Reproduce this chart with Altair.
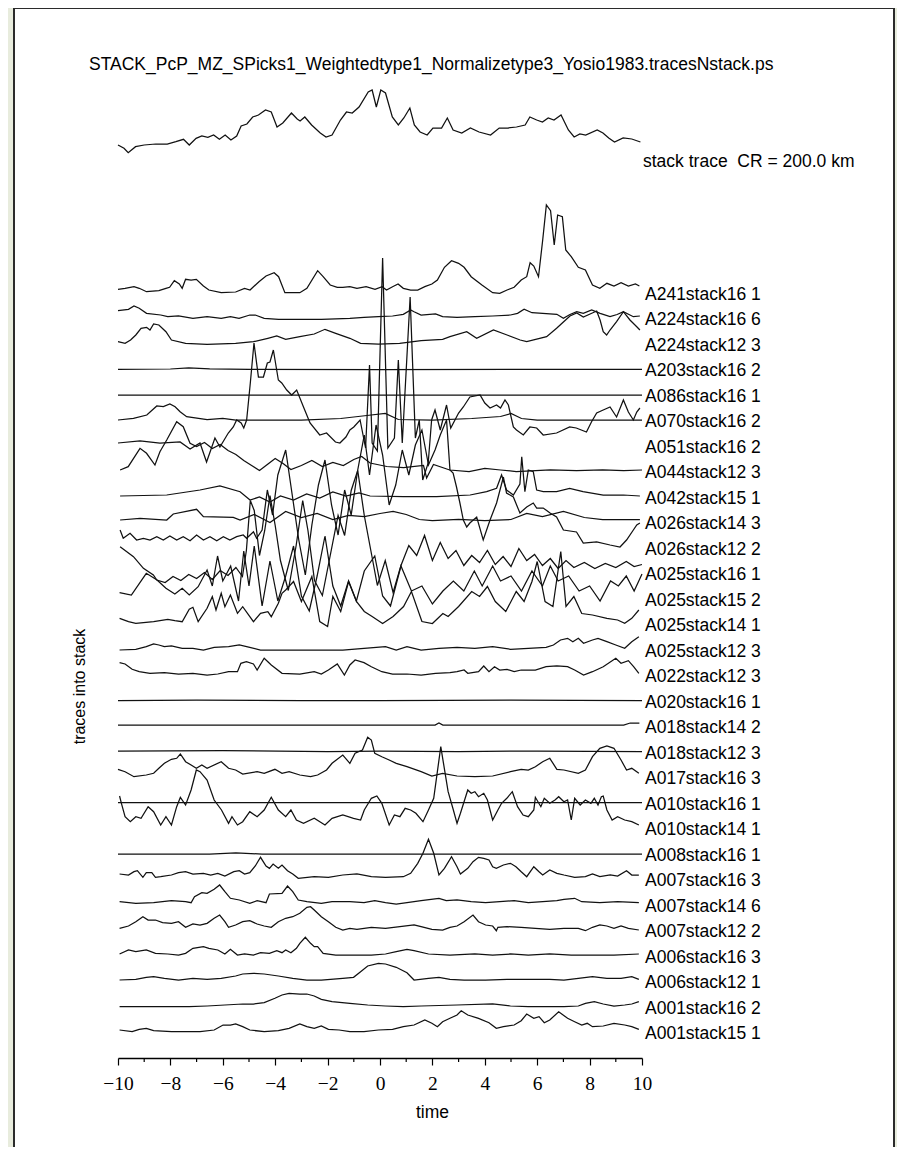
import altair as alt
import pandas as pd

# ---------------- data (time in s, amplitude above trace baseline) ----------------
stack_trace = [(-10.0,0),(-9.77,-3.3),(-9.61,-7.7),(-9.33,-1.7),(-9.0,0),(-8.56,1),(-8.12,1),(-7.79,3.3),(-7.5,5.7),(-7.28,0),(-7.02,6.7),(-6.8,9),(-6.57,7.7),(-6.35,10),(-6.13,5.7),(-5.91,10),(-5.69,5),(-5.47,9),(-5.30,19),(-5.08,21),(-4.86,28),(-4.64,30),(-4.37,35),(-4.15,33),(-3.93,18),(-3.71,22),(-3.38,32),(-3.16,26),(-3.05,24),(-2.87,28),(-2.61,20),(-2.28,12),(-2.06,8),(-1.83,10),(-1.51,25),(-1.28,33),(-1.06,32),(-0.8,38),(-0.45,53),(-0.30,55),(-0.14,38),(0.03,55),(0.21,52),(0.47,28),(0.70,20),(0.91,27),(1.14,37),(1.31,20),(1.53,13),(1.80,10),(2.02,17),(2.35,17),(2.57,27),(2.79,15),(3.12,12),(3.45,17),(3.78,13),(4.22,10),(4.55,17),(4.88,17),(5.21,18),(5.54,20),(5.72,28),(5.98,25),(6.20,23),(6.42,27),(6.64,25),(6.91,30),(7.19,15),(7.41,8),(7.63,11),(7.85,10),(8.29,15),(8.51,12),(8.73,7),(8.95,3),(9.28,7),(9.61,6),(9.94,3)]

a241s16_1 = [(-10,0.7),(-9.73,1.7),(-9.39,3.3),(-9.19,1.7),(-8.91,-1.7),(-8.44,-0.7),(-8.17,1.7),(-8.03,2.7),(-7.85,9.3),(-7.66,6),(-7.55,1.7),(-7.42,10.7),(-7.21,10),(-7.01,10.7),(-6.74,4),(-6.53,0),(-6.06,-2.7),(-5.51,-2),(-5.17,1.7),(-4.96,0),(-4.62,8.3),(-4.35,14),(-4.04,17.3),(-3.87,13.3),(-3.63,-2.7),(-3.06,-2.7),(-2.79,1.7),(-2.38,19.3),(-2.17,13.3),(-1.90,5),(-1.63,2.7),(-1.42,2.7),(-1.15,3.3),(-0.88,1.7),(-0.53,3.3),(-0.19,0.7),(0.08,3.3),(0.25,0),(0.48,3.3),(0.69,6),(0.89,1.7),(1.17,0),(1.44,0),(1.71,3.3),(1.98,6),(2.19,10),(2.46,22.7),(2.73,29.3),(3.0,26.7),(3.21,22.7),(3.48,13.3),(3.89,5),(4.30,-2.7),(4.57,-3.3),(4.85,0),(5.12,2.7),(5.39,10),(5.60,13.3),(5.73,27.3),(5.87,24),(6.05,13.3),(6.21,50),(6.35,85),(6.51,79.3),(6.65,45),(6.78,75),(6.96,73.3),(7.09,40),(7.30,33.3),(7.57,22.7),(7.84,20),(8.11,5),(8.39,1.7),(8.66,6.7),(8.93,4),(9.20,7.3),(9.48,4),(9.75,6),(9.90,4)]
a224s16_6 = [(-10,4.8),(-9.6,6.2),(-9.39,9.5),(-9.19,7.2),(-8.91,2.2),(-8.37,0.5),(-8.10,-1.2),(-7.69,-0.5),(-7.14,-2.8),(-6.60,-1.2),(-6.06,-2.8),(-5.71,-1.2),(-5.38,-2.8),(-4.97,0.5),(-4.76,0.5),(-4.42,-2.8),(-3.87,-3.8),(-3.06,-3.8),(-2.24,-3.8),(-1.15,-2.8),(-0.61,-1.8),(-0.06,-1.2),(0.48,-0.5),(0.89,1.2),(1.17,5.5),(1.30,3.8),(1.57,0.5),(2.12,1.5),(2.39,-1.2),(2.94,-1.8),(3.62,-1.2),(4.30,-0.5),(4.98,0.5),(5.25,2.2),(5.50,6.2),(5.80,2.8),(6.21,2.2),(6.75,1.2),(7.0,-2.8),(7.25,1),(7.51,3.8),(7.76,2.2),(8.08,5.5),(8.40,2.2),(8.78,-1.2),(9.05,1),(9.29,3.8),(9.67,-1.2),(9.92,-0.5)]
a224s12_3 = [(-10,-0.7),(-9.73,-2.3),(-9.52,1),(-9.32,6),(-9.12,12.7),(-8.91,13.7),(-8.78,11),(-8.64,17),(-8.44,16),(-8.17,9.3),(-7.96,1),(-7.42,-2.3),(-6.60,-3.3),(-5.51,-2.3),(-4.83,-0.7),(-4.28,2.7),(-3.94,5),(-3.60,1.7),(-3.06,4.3),(-2.51,7),(-2.10,11.7),(-1.69,7.7),(-1.15,2.7),(-0.74,-2.3),(-0.06,-3),(0.75,-2.3),(1.57,0.3),(2.39,1.7),(2.67,4.3),(3.31,9.3),(3.69,2.7),(4.33,11),(4.85,6),(5.35,1),(5.60,-0.7),(6.36,4.3),(6.74,12.7),(7.0,19),(7.25,25),(7.51,28),(7.76,24),(8.02,27),(8.27,30),(8.40,21),(8.52,9.3),(8.65,6),(8.78,11),(9.03,19.3),(9.29,29.3),(9.54,21),(9.80,14.3),(9.92,11)]
a203s16_2 = [(-10,-2.8),(-8,-2.5),(-7.3,-1.5),(-6.5,-2.3),(-5,-2.8),(0,-3),(5,-2.8),(10,-2.8)]
a086s16_1 = [(-10,-3),(-5,-3.2),(0,-3),(5,-3.2),(10,-3)]
a070s16_2 = [(-10,-2.5),(-9.41,-0.8),(-8.90,2.5),(-8.52,11.5),(-8.27,10.8),(-8.02,13.5),(-7.82,10.8),(-7.63,5.8),(-7.38,0.8),(-6.6,-2),(-6.0,-1),(-5.5,-2.5),(-3.0,-2.5),(-1.5,-1),(-0.5,2),(0.2,4),(0.7,-2),(2.0,-2.5),(3.5,-1),(4.6,1),(5.0,4),(5.4,-1),(6.0,-2.5),(10,-2.5)]
a051s16_2 = [(-10,0),(-9.16,2),(-8.4,0),(-7.63,1),(-7.25,-6),(-6.87,0),(-6.62,-19),(-6.30,5),(-6.11,-4),(-5.79,10),(-5.60,16),(-5.47,23),(-5.3,20),(-5.2,15),(-5.09,23),(-4.95,60),(-4.81,100),(-4.64,66),(-4.45,66),(-4.3,80),(-4.2,81),(-4.07,93),(-3.88,63),(-3.75,60),(-3.56,53),(-3.37,48),(-3.18,53),(-2.92,36),(-2.67,20),(-2.3,8),(-2.04,10),(-1.7,1),(-1.53,0),(-1.3,6),(-1.15,13),(-1.0,16),(-0.76,23),(-0.55,-5),(-0.4,78),(-0.3,0),(-0.1,-8),(0.1,185),(0.3,-5),(0.55,5),(0.7,83),(0.85,0),(1.15,146),(1.35,5),(1.5,23),(1.63,-37),(1.84,-20),(1.97,23),(2.1,33),(2.3,13),(2.54,38),(2.7,15),(3.0,30),(3.18,36),(3.43,46),(3.82,48),(4.0,40),(4.20,35),(4.45,38),(4.6,35),(4.77,43),(4.9,38),(5.09,16),(5.21,13),(5.47,8),(5.72,16),(5.98,15),(6.23,8),(6.74,10),(7.24,16),(7.49,15),(7.88,11),(8.07,21),(8.27,30),(8.52,33),(8.78,36),(9.03,26),(9.29,43),(9.48,31),(9.67,23),(9.80,31),(9.92,35)]
a044s12_3 = [(-9.92,-1.5),(-9.61,1.8),(-9.16,20.2),(-8.91,15.2),(-8.59,3.5),(-8.40,16.8),(-8.14,28.5),(-7.76,46.8),(-7.51,41.8),(-7.25,25.2),(-7.0,22),(-6.7,26),(-6.4,20),(-6.1,24),(-5.8,18),(-5.5,14),(-5.2,8),(-4.9,3),(-4.6,-2),(-4.3,4),(-4.0,10),(-3.7,5),(-3.4,-1),(-3.0,3),(-2.6,8),(-2.2,2),(-1.8,6),(-1.4,3),(-1.0,9),(-0.7,12),(-0.38,5.5),(0.26,2),(0.9,1),(1.66,3),(1.78,-9.5),(2.04,4),(2.66,-1.5),(3.4,-3),(4.0,0),(4.6,-1.5),(5.2,-3),(6.5,-1.5),(7.5,-2),(8.5,-1.5),(9.3,-2),(10,-1.5)]
a042s15_1 = [(-9.92,-2),(-8.14,-1),(-6.87,4),(-6.11,8),(-5.34,2.3),(-4.96,-6),(-4.6,-3),(-4.2,-8),(-3.8,-2),(-3.3,-6),(-2.8,0),(-2.3,-4),(-1.8,2),(-1.3,-2),(-0.8,1),(-0.38,-2),(0.89,-2.7),(2.16,-2.7),(3.44,-1),(4.07,2.3),(4.45,5.7),(4.64,19),(4.83,4),(5.09,-1),(5.34,10),(5.41,37.3),(5.53,2.3),(5.66,24),(5.85,22.3),(5.98,4),(6.23,2.3),(6.74,2.3),(7.24,5.7),(7.75,2.3),(8.52,-1),(9.29,-1),(9.92,-2)]
a026s14_3 = [(-9.92,-0.5),(-9.16,1.2),(-8.14,-0.5),(-7.89,5.5),(-7.0,10.2),(-6.74,2.8),(-5.60,2.2),(-5.34,-0.5),(-4.8,5),(-4.2,-3),(-3.6,8),(-3.0,2),(-2.4,6),(-1.8,0),(-1.2,4),(-0.6,3),(0.0,6),(0.5,8),(1.0,5),(1.5,0),(2.0,-1),(3.0,0),(4.0,-1),(5.0,0),(5.6,6),(6.2,3),(7.0,8),(7.8,2),(8.5,0),(9.2,0),(9.92,0)]
a026s12_2 = [(-9.92,15),(-9.80,6.7),(-9.54,11.7),(-9.29,5),(-9.03,6.7),(-8.78,5),(-8.52,8.3),(-8.27,5),(-8.02,9),(-7.76,5),(-7.51,8.3),(-7.25,4.3),(-7.0,10),(-6.74,5),(-6.49,8.3),(-6.23,4.3),(-5.98,8.3),(-5.73,5),(-5.47,8.3),(-5.22,10),(-5.09,6.7),(-4.83,13.3),(-4.71,6.7),(-4.5,15),(-4.3,55),(-4.1,30),(-3.9,70),(-3.6,95),(-3.35,50),(-3.1,5),(-2.85,-30),(-2.6,20),(-2.35,60),(-2.1,85),(-1.85,40),(-1.6,10),(-1.35,55),(-1.1,30),(-0.85,75),(-0.6,110),(-0.4,70),(-0.15,120),(0.1,90),(0.35,40),(0.6,60),(0.85,95),(1.1,70),(1.35,100),(1.6,115),(1.85,80),(2.1,95),(2.3,110),(2.54,125),(2.67,75),(2.79,72),(2.92,58),(3.05,42),(3.18,25),(3.31,18),(3.43,22),(3.69,28),(3.94,5),(4.2,25),(4.45,42),(4.71,68),(4.83,52),(5.09,48),(5.34,32),(5.6,38),(5.85,42),(5.98,37),(6.23,37),(6.49,32),(6.74,28),(7.0,15),(7.5,13),(7.76,2),(8.27,3),(8.78,0),(9.16,-2),(9.41,5),(9.67,15),(9.8,20),(9.92,22)]
a025s16_1 = [(-9.92,23.8),(-9.41,13.8),(-9.03,2.2),(-8.65,-4.5),(-8.52,-9.5),(-8.2,-12),(-7.9,-6),(-7.6,-10),(-7.3,-4),(-7.0,-8),(-6.7,-2),(-6.4,-9),(-6.1,0),(-5.8,-5),(-5.5,3),(-5.25,-6),(-5.1,20),(-4.95,70),(-4.8,60),(-4.6,15),(-4.4,40),(-4.2,75),(-4.0,45),(-3.8,10),(-3.5,-20),(-3.2,25),(-2.95,70),(-2.75,40),(-2.5,-10),(-2.2,-25),(-1.9,15),(-1.6,55),(-1.35,35),(-1.1,80),(-0.85,100),(-0.6,55),(-0.35,20),(-0.1,-15),(0.2,10),(0.5,-22),(0.8,5),(1.1,25),(1.4,15),(1.7,35),(2.0,10),(2.3,28),(2.6,12),(2.9,20),(3.2,5),(3.5,15),(3.8,8),(4.1,20),(4.4,6),(4.7,14),(5.0,4),(5.3,22),(5.6,10),(5.9,16),(6.2,5),(6.5,12),(6.8,2),(7.1,10),(7.4,3),(7.8,8),(8.2,2),(8.6,7),(9.0,3),(9.4,9),(9.7,4),(10,6)]
a025s15_2 = [(-9.94,3.3),(-9.49,1),(-8.92,22.7),(-8.51,16),(-8.17,7.7),(-7.83,2),(-7.55,7.7),(-7.28,1),(-6.94,9.3),(-6.60,26),(-6.4,10),(-6.2,40),(-6.0,15),(-5.7,30),(-5.4,-5),(-5.2,45),(-5.0,10),(-4.8,50),(-4.5,-10),(-4.2,35),(-3.9,-5),(-3.6,20),(-3.3,50),(-3.0,0),(-2.7,-15),(-2.4,20),(-2.1,60),(-1.8,10),(-1.5,-10),(-1.2,15),(-0.9,-5),(-0.6,25),(-0.2,40),(0.1,0),(0.4,-10),(0.8,30),(1.2,5),(1.6,10),(2.0,-8),(2.4,5),(2.8,15),(3.2,5),(3.6,25),(3.9,10),(4.3,30),(4.6,15),(5.0,20),(5.4,5),(5.8,25),(6.2,10),(6.5,30),(6.8,15),(7.2,20),(7.6,5),(8.0,10),(8.4,-5),(8.8,15),(9.1,10),(9.4,20),(9.7,5),(10,22)]
a025s14_1 = [(-9.94,3.2),(-9.60,-0.2),(-9.32,-1.8),(-8.64,-0.2),(-8.10,2.2),(-7.83,0.8),(-7.55,-0.2),(-7.28,12.2),(-7.14,14.2),(-6.94,-0.2),(-6.60,13.2),(-6.40,24.8),(-6.26,11.5),(-6.06,28.2),(-5.92,14.8),(-5.71,26.5),(-5.44,8.2),(-5.24,14.8),(-4.83,-0.2),(-4.56,8.2),(-4.28,9.8),(-4.15,4.8),(-3.88,18.2),(-3.74,28.2),(-3.60,31.5),(-3.3,40),(-3.0,20),(-2.6,45),(-2.3,0),(-2.0,-5),(-1.8,25),(-1.5,10),(-1.2,40),(-0.9,20),(-0.6,10),(-0.3,5),(0.1,-2),(0.5,5),(0.9,15),(1.2,30),(1.6,0),(2.0,-2),(2.4,8),(2.6,5),(3.0,15),(3.5,30),(3.8,25),(4.1,35),(4.4,20),(4.8,10),(5.2,30),(5.5,20),(5.8,40),(6.0,60),(6.3,20),(6.6,15),(6.9,70),(7.1,15),(7.4,25),(7.7,8),(8.11,6.5),(8.66,3.2),(9.07,1.5),(9.34,-1.8),(9.61,3.2),(9.88,11.5)]
a025s12_3 = [(-9.94,-3),(-9.32,-2.3),(-8.92,0.3),(-8.64,3),(-8.44,2),(-8.23,0.3),(-7.96,1),(-7.55,-1.3),(-7.14,-1.3),(-6.74,-3),(-6.33,-0.3),(-5.78,0.3),(-5.37,2),(-4.97,-0.3),(-4.56,-3),(-3.88,-3),(-3.06,-3),(-2.24,-3),(-1.42,-3),(-0.61,-1.3),(0.21,0.3),(0.62,-3),(1.03,0.3),(1.57,-3),(2.25,-1.3),(2.94,-0.3),(3.62,-1.3),(4.30,0.3),(4.98,-2.3),(5.66,-1.3),(6.34,-0.3),(6.62,2),(6.89,7),(7.16,8.7),(7.36,5.3),(7.57,8.7),(7.77,3.7),(8.11,7),(8.32,8.7),(8.66,5.3),(9.0,2),(9.34,-1.3),(9.61,5.3),(9.88,10.3)]
a022s12_3 = [(-9.94,9.8),(-9.73,8.5),(-9.46,3.2),(-9.19,0.8),(-8.78,-0.8),(-8.23,-0.2),(-7.69,-1.5),(-7.14,-0.8),(-6.60,-2.5),(-6.19,-1.5),(-5.78,0.8),(-5.44,0.8),(-5.31,9.2),(-5.10,10.8),(-4.83,8.5),(-4.69,2.5),(-4.42,14.2),(-4.15,7.5),(-3.74,-0.8),(-3.06,-1.5),(-2.51,0.8),(-2.24,-1.5),(-1.97,2.5),(-1.63,8.5),(-1.36,-2.5),(-1.15,7.5),(-0.95,12.5),(-0.61,9.8),(-0.33,5.8),(0.07,0.8),(0.48,-1.5),(1.03,-1.5),(1.57,-2.5),(2.12,-0.8),(2.67,-0.2),(2.94,0.8),(3.21,2.5),(3.35,-0.8),(3.76,0.8),(3.96,6.5),(4.16,0.8),(4.37,5.8),(4.57,2.5),(4.85,3.2),(5.12,0.8),(5.39,2.5),(5.93,2.5),(6.34,5.8),(6.75,6.5),(7.16,5.8),(7.43,2.5),(7.77,-2.5),(8.11,0.8),(8.52,5.8),(9.0,14.2),(9.20,9.2),(9.48,11.8),(9.68,5.8),(9.88,-0.8)]
a020s16_1 = [(-10,-2.5),(-7,-2),(-3,-2.5),(0,-2.5),(5,-2),(10,-2.5)]
a018s14_2 = [(-10,-1.5),(2.1,-1.5),(2.25,0.5),(2.4,-1.5),(9.3,-1.5),(9.55,0.5),(9.9,0.5)]
a018s12_3 = [(-10,-2),(-6,-1.5),(-2,-2.5),(0,-2),(3,-2.5),(6,-2),(10,-2.5)]
a017s16_3 = [(-10,5.2),(-9.73,2.8),(-9.39,-2.2),(-8.92,-0.5),(-8.64,1.2),(-8.44,6.2),(-8.23,11.2),(-7.96,15.2),(-7.76,16.2),(-7.62,20.5),(-7.42,12.8),(-7.21,9.5),(-7.01,6.2),(-6.80,9.5),(-6.60,6.2),(-6.06,12.8),(-5.78,6.2),(-5.51,4.5),(-5.24,0.5),(-4.69,2.8),(-4.42,1.2),(-4.01,5.2),(-3.74,1.2),(-3.47,2.8),(-3.06,-0.5),(-2.65,-2.2),(-2.38,-0.5),(-2.04,4.5),(-1.83,11.2),(-1.42,19.5),(-1.15,11.2),(-0.95,21.2),(-0.67,24.5),(-0.47,37.2),(-0.33,34.5),(-0.20,21.2),(0.07,17.8),(0.35,14.5),(0.62,11.2),(1.03,7.8),(1.57,2.8),(1.98,-1.5),(2.39,1.2),(2.94,-1.5),(3.62,-2.2),(4.30,-1.5),(4.98,2.8),(5.39,5.2),(5.66,4.5),(5.93,7.8),(6.21,12.8),(6.48,16.2),(6.75,5.2),(7.02,4.5),(7.57,1.2),(7.84,4.5),(8.11,17.8),(8.39,26.2),(8.66,28.5),(8.93,26.2),(9.20,14.5),(9.41,4.5),(9.61,6.2),(9.88,1.2)]
a010s16_1 = [(-10,-2.7),(10,-2.7)]
a010s14_1 = [(-9.94,29.5),(-9.87,22.2),(-9.73,8.8),(-9.53,3.8),(-9.32,8.8),(-9.12,7.2),(-8.85,18.8),(-8.64,13.8),(-8.37,0.5),(-8.17,8.8),(-7.96,0.5),(-7.76,18.8),(-7.62,28.2),(-7.42,20.5),(-7.21,35.5),(-7.01,55.5),(-6.87,53.8),(-6.60,45.5),(-6.33,25.5),(-6.05,15.5),(-5.78,2.2),(-5.65,8.8),(-5.44,0.5),(-5.24,3.8),(-4.97,13.8),(-4.69,8.8),(-4.42,15.5),(-4.15,28.2),(-3.88,15.5),(-3.60,8.8),(-3.40,15.5),(-3.19,5.5),(-2.92,2.2),(-2.51,7.2),(-2.10,0.5),(-1.83,7.2),(-1.42,10.5),(-1.01,7.2),(-0.74,5.5),(-0.60,15.5),(-0.33,27.2),(-0.12,29.5),(0.07,22.2),(0.35,0.5),(0.55,10.5),(0.76,8.8),(0.96,17.2),(1.17,15.5),(1.37,12.2),(1.64,3.8),(1.85,15.5),(2.05,27.2),(2.32,78.8),(2.60,33.8),(2.80,15.5),(2.94,2.2),(3.07,12.2),(3.35,35.5),(3.48,32.2),(3.62,33.8),(3.76,28.8),(3.96,32.2),(4.10,25.5),(4.30,5.5),(4.50,15.5),(4.64,22.2),(4.84,27.2),(5.05,33.8),(5.25,18.8),(5.46,10.5),(5.66,8.8),(5.87,15.5),(5.93,28.2),(6.14,18.8),(6.27,27.2),(6.48,22.2),(6.68,25.5),(6.82,28.8),(7.02,23.8),(7.16,25.5),(7.30,5.5),(7.43,27.2),(7.64,20.5),(7.84,25.5),(8.05,22.2),(8.18,27.2),(8.32,20.5),(8.45,28.8),(8.52,29.5),(8.66,15.5),(8.86,5.5),(9.07,8.8),(9.34,5.5),(9.61,3.8),(9.88,0.5)]
a008s16_1 = [(-10,-3),(-6.5,-3),(-5.5,-2),(-4.5,-3),(10,-3)]
a007s16_3 = [(-9.94,2.5),(-9.60,1.5),(-9.39,4.8),(-9.26,5.8),(-9.05,-0.8),(-8.92,3.8),(-8.71,3.8),(-8.57,-0.8),(-8.37,-0.2),(-7.96,1.5),(-7.69,3.8),(-7.42,4.8),(-7.14,2.5),(-6.74,3.2),(-6.46,1.5),(-6.19,3.2),(-5.92,0.5),(-5.58,4.8),(-5.37,5.8),(-5.17,2.5),(-4.97,3.8),(-4.76,10.5),(-4.56,19.2),(-4.35,10.5),(-4.22,8.2),(-4.08,12.5),(-3.88,8.2),(-3.74,11.5),(-3.53,5.8),(-3.33,2.5),(-3.12,-1.8),(-2.51,-0.2),(-1.97,-0.8),(-1.42,1.5),(-0.88,2.5),(-0.33,-0.2),(0.21,-0.8),(0.89,-0.2),(1.17,3.2),(1.44,13.2),(1.64,23.2),(1.85,37.2),(2.05,23.2),(2.25,1.5),(2.46,8.2),(2.73,19.8),(2.94,9.8),(3.07,2.5),(3.35,8.2),(3.55,14.8),(3.76,19.2),(3.96,18.2),(4.16,16.5),(4.30,9.8),(4.44,8.2),(4.71,11.5),(4.98,13.2),(5.19,9.8),(5.39,4.8),(5.60,-0.2),(5.87,9.8),(6.07,4.8),(6.21,1.5),(6.48,6.5),(6.75,3.2),(7.02,1.5),(7.43,-0.8),(7.84,-0.2),(8.11,2.5),(8.39,-0.2),(8.79,1.5),(9.07,0.5),(9.41,5.8),(9.61,1.5),(9.88,1.5)]
a007s14_6 = [(-9.94,0.3),(-9.32,-1.3),(-8.64,-0.7),(-7.96,1.3),(-7.42,0.3),(-7.21,-0.7),(-7.08,5.3),(-6.80,9.3),(-6.60,8.7),(-6.33,12.7),(-6.12,17),(-5.92,10.3),(-5.71,3.7),(-5.37,2),(-4.97,-1.3),(-4.69,1.3),(-4.35,-0.7),(-4.22,8),(-3.74,8.7),(-3.53,16),(-3.33,10.3),(-3.12,2),(-2.79,0.3),(-2.24,-1.3),(-1.83,0.3),(-1.15,0.3),(-0.61,-0.7),(-0.20,1.3),(0.21,-0.7),(0.62,-2),(1.03,-0.7),(1.57,1.3),(2.25,3.7),(2.53,1.3),(2.94,2),(3.48,0.3),(4.03,-0.7),(4.57,0.3),(5.12,1.3),(5.66,-0.7),(6.21,0.3),(6.75,1.3),(7.02,2.7),(7.43,3.7),(7.70,0.3),(8.39,-0.7),(9.07,0.3),(9.88,-0.7)]
a007s12_2 = [(-9.94,-0.8),(-9.60,1.5),(-9.32,5.8),(-9.05,10.8),(-8.85,7.5),(-8.57,7.5),(-8.30,4.8),(-7.96,4.2),(-7.69,5.8),(-7.42,0.2),(-7.14,3.5),(-6.87,2.5),(-6.60,4.2),(-6.33,9.2),(-6.12,12.5),(-5.92,5.8),(-5.78,0.2),(-5.51,2.5),(-5.24,5.8),(-4.97,6.8),(-4.69,3.5),(-4.42,1.5),(-4.15,0.2),(-3.88,5.8),(-3.60,9.2),(-3.33,10.8),(-3.06,14.2),(-2.79,20.2),(-2.65,20.8),(-2.51,17.5),(-2.24,10.8),(-1.97,5.8),(-1.69,0.2),(-1.42,-2.5),(-1.15,-0.8),(-0.88,-1.8),(-0.33,0.2),(0.21,-0.8),(0.76,0.8),(1.30,2.5),(1.57,0.8),(1.98,-1.8),(2.39,-2.5),(2.67,0.2),(2.94,1.5),(3.21,5.8),(3.55,12.5),(3.76,5.8),(4.03,2.5),(4.30,1.5),(4.44,-3.2),(4.50,0.2),(4.85,0.8),(5.39,0.2),(5.93,-0.8),(6.48,-1.8),(7.02,-0.8),(7.57,-0.8),(7.84,-3.2),(8.11,0.2),(8.39,2.5),(8.66,1.5),(8.93,-0.8),(9.20,1.5),(9.48,-0.8),(9.88,-2.5)]
a006s16_3 = [(-9.94,-1),(-9.60,3),(-9.32,1.3),(-8.92,3),(-8.57,-0.3),(-8.10,-1),(-7.69,-2),(-7.42,-0.3),(-7.14,4.7),(-6.74,6.3),(-6.53,4.7),(-6.19,3),(-5.92,-1),(-5.71,3.7),(-5.44,-2),(-5.17,-1),(-4.83,-2),(-4.56,0.3),(-4.22,-0.3),(-3.94,2.3),(-3.74,0.3),(-3.60,3),(-3.40,0.3),(-3.19,4.7),(-3.06,9.7),(-2.85,15.7),(-2.65,9.7),(-2.51,6.3),(-2.38,6.3),(-2.17,-0.3),(-1.69,-2),(-1.15,-2),(-0.33,-2),(0.21,-1),(0.62,1.3),(1.03,3.7),(1.30,2.3),(1.85,-1),(2.67,-2),(3.62,-1),(4.30,-2),(4.98,-1),(5.66,-2),(6.48,-1),(7.30,-2),(8.11,-2),(8.93,-2),(9.88,-1)]
a006s12_1 = [(-9.94,-1.5),(-9.32,-0.8),(-8.92,1.2),(-8.64,1.8),(-8.23,0.2),(-7.69,-1.5),(-7.14,0.2),(-6.60,-0.8),(-6.06,0.2),(-5.51,2.5),(-5.24,4.5),(-4.83,5.2),(-4.42,4.5),(-3.88,2.5),(-3.33,0.2),(-2.79,-1.5),(-2.24,-1.5),(-1.42,0.2),(-1.01,1.2),(-0.74,6.8),(-0.47,12.5),(-0.06,15.2),(0.21,14.5),(0.62,11.2),(1.03,5.8),(1.30,-1.5),(1.85,0.2),(2.25,1.2),(2.67,-0.8),(3.21,-1.5),(4.03,-1.5),(4.85,-0.8),(5.66,-0.8),(6.48,-0.8),(7.02,-1.5),(7.57,0.2),(8.11,1.8),(8.66,0.2),(9.20,0.2),(9.61,1.8),(9.88,-0.8)]
a001s16_2 = [(-9.94,-2.7),(-7.28,-2.7),(-6.60,-2),(-5.92,-1),(-5.24,0),(-4.83,0),(-4.42,1.3),(-4.01,5.7),(-3.74,9),(-3.47,10.7),(-3.06,10),(-2.79,10),(-2.51,8),(-2.24,4.7),(-1.83,2.3),(-1.15,0.7),(-0.47,-1),(0.21,-2),(0.89,-2.7),(1.57,-2),(2.94,-1),(4.30,0),(4.98,-2),(5.66,-2.7),(7.02,-2.7),(7.57,-2),(7.84,0.7),(8.18,2.3),(8.52,0),(8.93,-2),(9.34,-1),(9.61,0),(9.88,2.3)]
a001s15_1 = [(-9.94,-0.5),(-9.46,-2.2),(-9.19,0.2),(-8.92,1.2),(-8.64,-1.2),(-7.96,-2.2),(-6.87,-2.2),(-6.33,-0.5),(-5.99,4.5),(-5.71,4.5),(-5.51,5.5),(-5.24,2.8),(-4.97,-0.5),(-4.42,-2.2),(-3.88,-1.2),(-3.47,1.2),(-3.06,5.5),(-2.79,2.8),(-2.51,1.2),(-2.24,3.5),(-1.97,0.2),(-1.56,-0.5),(-1.15,-2.2),(-0.61,-2.2),(-0.06,-0.5),(0.48,0.2),(0.89,2.8),(1.30,4.5),(1.71,9.5),(1.98,6.2),(2.19,2.8),(2.39,7.8),(2.67,11.2),(2.94,14.5),(3.10,18.8),(3.35,14.5),(3.76,11.2),(4.16,6.8),(4.44,1.2),(4.71,2.8),(5.12,4.5),(5.39,8.8),(5.60,15.5),(5.87,11.2),(6.07,12.8),(6.27,6.8),(6.48,9.5),(6.82,17.8),(7.16,11.2),(7.43,7.8),(7.70,4.5),(7.91,6.2),(8.11,2.8),(8.52,3.5),(8.93,6.2),(9.34,4.5),(9.61,2.8),(9.88,0.2)]

trace_names = ["A241stack16 1", "A224stack16 6", "A224stack12 3", "A203stack16 2", "A086stack16 1",
               "A070stack16 2", "A051stack16 2", "A044stack12 3", "A042stack15 1", "A026stack14 3",
               "A026stack12 2", "A025stack16 1", "A025stack15 2", "A025stack14 1", "A025stack12 3",
               "A022stack12 3", "A020stack16 1", "A018stack14 2", "A018stack12 3", "A017stack16 3",
               "A010stack16 1", "A010stack14 1", "A008stack16 1", "A007stack16 3", "A007stack14 6",
               "A007stack12 2", "A006stack16 3", "A006stack12 1", "A001stack16 2", "A001stack15 1"]
trace_values = [a241s16_1, a224s16_6, a224s12_3, a203s16_2, a086s16_1,
                a070s16_2, a051s16_2, a044s12_3, a042s15_1, a026s14_3,
                a026s12_2, a025s16_1, a025s15_2, a025s14_1, a025s12_3,
                a022s12_3, a020s16_1, a018s14_2, a018s12_3, a017s16_3,
                a010s16_1, a010s14_1, a008s16_1, a007s16_3, a007s14_6,
                a007s12_2, a006s16_3, a006s12_1, a001s16_2, a001s15_1]
stack_label = "stack trace\u00a0 CR = 200.0 km"
title_text = "STACK_PcP_MZ_SPicks1_Weightedtype1_Normalizetype3_Yosio1983.tracesNstack.ps"
major_ticks = [-10, -8, -6, -4, -2, 0, 2, 4, 6, 8, 10]
minor_ticks = [-9, -7, -5, -3, -1, 1, 3, 5, 7, 9]

# ---------------- layout constants ----------------
PLOT_W, PLOT_H = 524, 968
TOP_BASE = 768.0      # baseline of first trace (y units == px)
SPACING = 25.5
STACK_BASE = 913.0
TITLE_Y = 988.0
SANS = "Liberation Sans"
SERIF = "Liberation Serif"

rows = []
for i, (t, a) in enumerate(stack_trace):
    rows.append({"name": "stack", "seq": i, "t": t, "y": STACK_BASE + a})
for k, (name, pts) in enumerate(zip(trace_names, trace_values)):
    base = TOP_BASE - SPACING * k
    for i, (t, a) in enumerate(pts):
        rows.append({"name": name, "seq": i, "t": t, "y": base + a})
df = pd.DataFrame(rows)

labels = pd.DataFrame({"name": trace_names,
                       "t": [10.0] * len(trace_names),
                       "y": [TOP_BASE - SPACING * k for k in range(len(trace_names))]})
stack_lab = pd.DataFrame({"name": [stack_label], "t": [10.0], "y": [STACK_BASE]})
title_df = pd.DataFrame({"name": [title_text], "t": [-10.0], "y": [TITLE_Y]})
minor_df = pd.DataFrame({"t": minor_ticks})

xscale = alt.Scale(domain=[-10, 10], nice=False, zero=False)
yscale = alt.Scale(domain=[0, PLOT_H], nice=False, zero=False)

xaxis = alt.Axis(values=major_ticks, format="d", grid=False, zindex=1,
                 domainColor="black", domainWidth=1.6, tickColor="black",
                 tickWidth=1.2, tickSize=7, labelFont=SERIF, labelFontSize=19.5,
                 labelColor="black", labelBaseline="alphabetic", labelPadding=24,
                 labelFlush=False, title="time", titleFont=SANS, titleFontSize=17.5,
                 titleFontWeight="normal", titleColor="black", titleX=314, titleY=59,
                 titleAlign="center", titleBaseline="alphabetic")
yaxis = alt.Axis(labels=False, ticks=False, domain=False, grid=False, zindex=1,
                 title="traces into stack", titleFont=SANS, titleFontSize=16,
                 titleFontWeight="normal", titleColor="black", titleAngle=270,
                 titleX=-39, titleY=596, titleAlign="center", titleBaseline="middle")

X = alt.X("t:Q", scale=xscale, axis=xaxis, title="time")
Y = alt.Y("y:Q", scale=yscale, axis=yaxis, title="traces into stack")

frame = alt.Chart(pd.DataFrame({"a": [0]})).mark_rect(
    fill="white", stroke="#2b2b2b", strokeWidth=2
).encode(x=alt.value(-104), x2=alt.value(776), y=alt.value(-82), y2=alt.value(1063))

lines = alt.Chart(df).mark_line(color="#111111", strokeWidth=1.25).encode(
    x=X, y=Y, detail="name:N", order="seq:Q")

lab = alt.Chart(labels).mark_text(align="left", baseline="middle", dx=3, dy=4.5,
                                  font=SANS, fontSize=17.5, color="black").encode(
    x=X, y=Y, text="name:N")

slab = alt.Chart(stack_lab).mark_text(align="left", baseline="middle", dx=1, dy=17,
                                      font=SANS, fontSize=17.5, color="black").encode(
    x=X, y=Y, text="name:N")

ttl = alt.Chart(title_df).mark_text(align="left", baseline="alphabetic", dx=-29,
                                    font=SANS, fontSize=17.5, color="black").encode(
    x=X, y=Y, text="name:N")

minor = alt.Chart(minor_df).mark_rule(color="black", strokeWidth=1.2).encode(
    x=X,
    y=alt.YDatum(0, scale=yscale, axis=yaxis, title="traces into stack"),
    y2=alt.Y2Datum(-4))

chart = alt.layer(frame, lines, lab, slab, ttl, minor).properties(
    width=PLOT_W, height=PLOT_H,
    padding={"left": 110, "top": 82, "right": 255, "bottom": 89},
    autosize=alt.AutoSizeParams(type="none"),
).configure(background="#e8ecdd").configure_view(stroke=None)

chart.save("out.html", embed_options={"renderer": "svg", "actions": False})
